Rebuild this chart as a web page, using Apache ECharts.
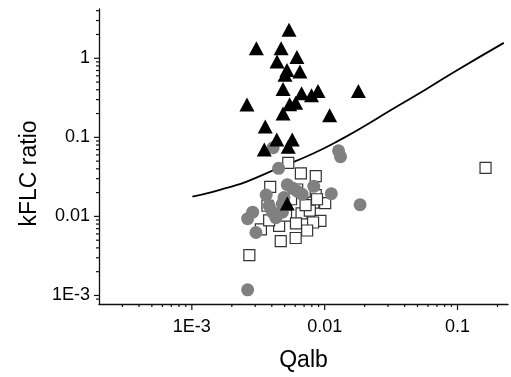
<!DOCTYPE html>
<html>
<head>
<meta charset="utf-8">
<script src="https://cdn.jsdelivr.net/npm/echarts@6/dist/echarts.min.js"></script>
<style>html,body{margin:0;padding:0;background:#fff}#c{width:511px;height:377px}</style>
</head>
<body>
<div id="c"></div>
<script>
// ---- data ----
const triX = [0.00539, 0.00306, 0.00470, 0.00618, 0.00438, 0.00520, 0.00651, 0.00503, 0.00486, 0.00670, 0.00796, 0.00891, 0.01794, 0.00260, 0.00545, 0.00605, 0.00486, 0.0109, 0.00357, 0.00436, 0.00570, 0.00351, 0.00532, 0.00523];
const triY = [2.30, 1.34, 1.34, 1.04, 0.91, 0.71, 0.68, 0.62, 0.41, 0.36, 0.34, 0.385, 0.385, 0.26, 0.262, 0.273, 0.20, 0.19, 0.137, 0.094, 0.094, 0.070, 0.076, 0.0146];

const circX = [0.01272, 0.01316, 0.00450, 0.00409, 0.00523, 0.00570, 0.00621, 0.00677, 0.00828, 0.01122, 0.01847, 0.00363, 0.00494, 0.00382, 0.00404, 0.00429, 0.00480, 0.00287, 0.00263, 0.00304, 0.00263, 0.00480];
const circY = [0.0675, 0.0570, 0.0406, 0.074, 0.0252, 0.0229, 0.0208, 0.0190, 0.0240, 0.0194, 0.01403, 0.0186, 0.0173, 0.01364, 0.01132, 0.00964, 0.0113, 0.0113, 0.00937, 0.00626, 0.00118, 0.0143];

const sqX = [0.00532, 0.00662, 0.00857, 0.00389, 0.00857, 0.01009, 0.00821, 0.00670, 0.00773, 0.00929, 0.00818, 0.00738, 0.00605, 0.00467, 0.00454, 0.00331, 0.00382, 0.00271, 0.1626, 0.00371, 0.00621, 0.00876, 0.00718, 0.00558, 0.00512, 0.00608];
const sqY = [0.0475, 0.0350, 0.0324, 0.0237, 0.0186, 0.01472, 0.01493, 0.01094, 0.01184, 0.00878, 0.00837, 0.00663, 0.00533, 0.00486, 0.00759, 0.00687, 0.00893, 0.00323, 0.0410, 0.01364, 0.0219, 0.01648, 0.01391, 0.01648, 0.0102, 0.00814];

const curveX = [0.00101, 0.00144, 0.00192, 0.00256, 0.00454, 0.00804, 0.01427, 0.01954, 0.0318, 0.0564, 0.1, 0.2232];
const curveY = [0.01778, 0.0205, 0.0235, 0.0274, 0.04121, 0.06152, 0.1007, 0.1361, 0.2234, 0.3936, 0.7112, 1.567];

const xMajorTicks = [0.001, 0.01, 0.1];
const xMinorTicks = [0.0003, 0.0004, 0.0005, 0.0006, 0.0007, 0.0008, 0.0009,
  0.002, 0.003, 0.004, 0.005, 0.006, 0.007, 0.008, 0.009,
  0.02, 0.03, 0.04, 0.05, 0.06, 0.07, 0.08, 0.09, 0.2];
const yMajorTicks = [0.001, 0.01, 0.1, 1];
const yMinorTicks = [0.0009, 0.002, 0.003, 0.004, 0.005, 0.006, 0.007, 0.008, 0.009,
  0.02, 0.03, 0.04, 0.05, 0.06, 0.07, 0.08, 0.09,
  0.2, 0.3, 0.4, 0.5, 0.6, 0.7, 0.8, 0.9, 2, 3, 4];
const tickLabels = {'-3': '1E-3', '-2': '0.01', '-1': '0.1', '0': '1'};

const X_MIN = 0.0002, X_MAX = 0.24, Y_MIN = 0.00078, Y_MAX = 4.2;

// ---- helpers ----
function zip(a, b) { return a.map((v, i) => [v, b[i]]); }
function fmt(v) {
  const e = Math.log10(v), r = Math.round(e);
  return (Math.abs(e - r) < 1e-6 && tickLabels[String(r)] !== undefined) ? tickLabels[String(r)] : '';
}
const FONT = 'Liberation Sans, Arial, sans-serif';
const AX = '#111';

const xTickData = xMajorTicks.map(v => [v, 1]).concat(xMinorTicks.map(v => [v, 0]));
const yTickData = yMajorTicks.map(v => [v, 1]).concat(yMinorTicks.map(v => [v, 0]));

const chart = echarts.init(document.getElementById('c'), null, {renderer: 'canvas'});
chart.setOption({
  animation: false,
  backgroundColor: '#fff',
  grid: {left: 99, right: 0, top: 9, bottom: 64, containLabel: false},
  xAxis: {
    type: 'log', min: X_MIN, max: X_MAX, logBase: 10,
    name: 'Qalb', nameLocation: 'middle', nameGap: 45,
    nameTextStyle: {fontFamily: FONT, fontSize: 23, color: '#000'},
    axisLine: {show: true, lineStyle: {color: AX, width: 1.3}},
    axisTick: {show: false}, minorTick: {show: false},
    splitLine: {show: false},
    axisLabel: {formatter: fmt, fontFamily: FONT, fontSize: 18, color: '#000', margin: 14,
      showMinLabel: true, showMaxLabel: true, hideOverlap: false}
  },
  yAxis: {
    type: 'log', min: Y_MIN, max: Y_MAX, logBase: 10,
    name: 'kFLC ratio', nameLocation: 'middle', nameGap: 58, nameRotate: 90,
    nameTextStyle: {fontFamily: FONT, fontSize: 23, color: '#000', padding: [0, 34, 0, 0]},
    axisLine: {show: true, lineStyle: {color: AX, width: 1.3}},
    axisTick: {show: false}, minorTick: {show: false},
    splitLine: {show: false},
    axisLabel: {formatter: fmt, fontFamily: FONT, fontSize: 18, color: '#000', margin: 9,
      showMinLabel: true, showMaxLabel: true, hideOverlap: false}
  },
  series: [
    {
      type: 'custom', name: 'xticks', coordinateSystem: 'cartesian2d', clip: false, silent: true,
      data: xTickData,
      renderItem: function (params, api) {
        const p = api.coord([api.value(0), Y_MIN]);
        const len = api.value(1) ? 6 : 3;
        return {type: 'line', shape: {x1: p[0], y1: p[1], x2: p[0], y2: p[1] + len},
          style: {stroke: AX, lineWidth: 1.2}};
      }
    },
    {
      type: 'custom', name: 'yticks', coordinateSystem: 'cartesian2d', clip: false, silent: true,
      data: yTickData,
      encode: {x: -1, y: 0},
      renderItem: function (params, api) {
        const p = api.coord([X_MIN, api.value(0)]);
        const len = api.value(1) ? 5 : 3;
        return {type: 'line', shape: {x1: p[0] - len, y1: p[1], x2: p[0], y2: p[1]},
          style: {stroke: AX, lineWidth: 1.2}};
      }
    },
    {
      type: 'line', name: 'limit', data: zip(curveX, curveY), smooth: 0.5,
      showSymbol: false, symbol: 'none', lineStyle: {color: '#000', width: 1.8}, z: 3
    },
    {
      type: 'scatter', name: 'squares', data: zip(sqX, sqY), symbol: 'rect', symbolSize: 11,
      itemStyle: {color: '#fff', borderColor: '#333', borderWidth: 1.2, opacity: 1}, z: 4
    },
    {
      type: 'scatter', name: 'circles', data: zip(circX, circY), symbol: 'circle', symbolSize: 13,
      itemStyle: {color: '#808080', opacity: 1}, z: 5
    },
    {
      type: 'scatter', name: 'triangles', data: zip(triX, triY), symbol: 'triangle', symbolSize: [15, 14],
      itemStyle: {color: '#000', opacity: 1}, z: 6
    }
  ]
});
</script>
</body>
</html>
